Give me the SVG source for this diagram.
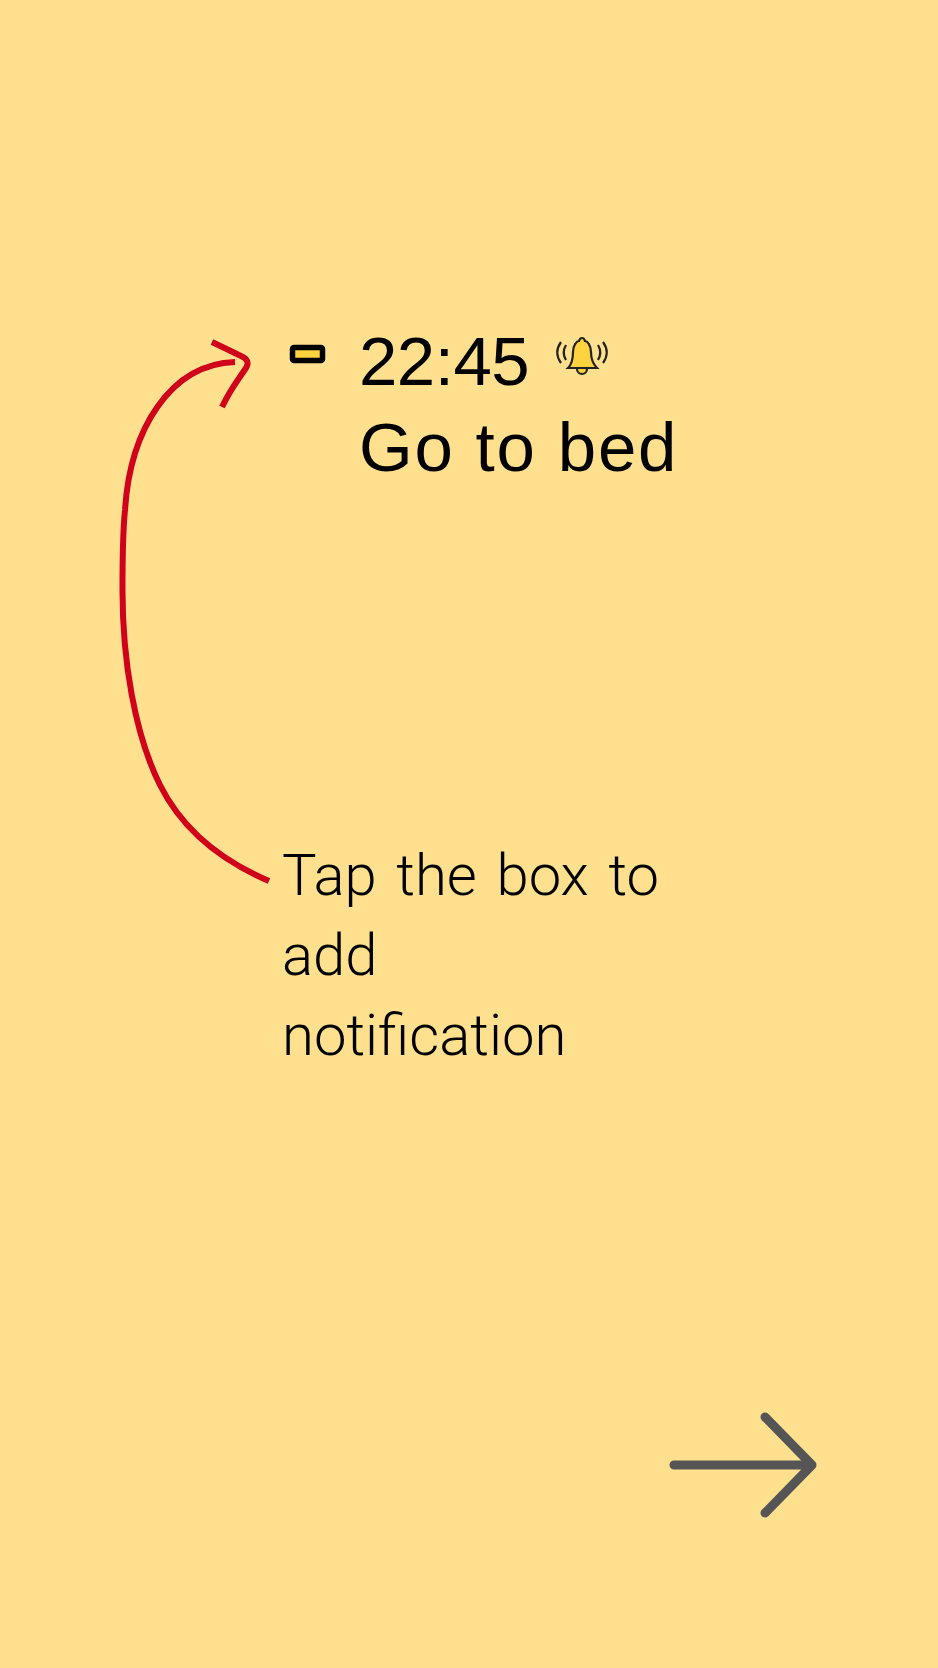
<svg xmlns="http://www.w3.org/2000/svg" width="938" height="1668" viewBox="0 0 938 1668">
<style>
.t{font-family:"Liberation Sans",Arial,sans-serif;fill:#000;font-size:69px}
.n{font-family:Roboto,"Liberation Sans",sans-serif;font-weight:300;fill:#000;font-size:58px}
.r{fill:none;stroke:#d0021b;stroke-width:6}
.g{fill:none;stroke:#555;stroke-width:9;stroke-linecap:round;stroke-linejoin:round}
</style>
<rect width="938" height="1668" fill="#ffe08f"/>
<g id="connectors">
<path class="r" d="M269 881C215 858 180 825 160 785C135 735 122 660 122.500 586C122.500 560 123 530 125 510C130 430 170 364 235 362"/>
<path class="r" d="M212 342L241 356C248 359 249 363 246 368C238 380 231 388 222 407"/>
<path class="g" d="M674 1465H812M765 1417L812 1465L765 1513"/>
</g>
<g id="checkbox"><rect x="292.500" y="347.500" width="30" height="13" rx="1.500" fill="#ffd23f" stroke="#000" stroke-width="5.500"/></g>
<g id="time"><text class="t" x="359" y="385" letter-spacing="-0.500">22:45</text></g>
<g id="bell" fill="none" stroke="#222" stroke-width="2.200">
<path d="M577 369A5 5 0 0 0 587 369" fill="#ffd23f"/>
<path d="M568 368C572 364 573 358 573 352C573 345 577 341 579 341C580 337 584 337 585 341C587 341 591 345 591 352C591 358 593 364 597 368Z" fill="#ffd23f"/>
<path d="M561 342C556 349 556 356 561 363M566 345C563 350 563 355 566 360M603 342C608 349 608 356 603 363M598 345C601 350 601 355 598 360"/>
</g>
<g id="title"><text class="t" x="359" y="471" letter-spacing="1.800">Go to bed</text></g>
<g id="note"><text class="n" x="282" y="895" word-spacing="5.500">Tap the box to</text><text class="n" x="282" y="975">add</text><text class="n" x="282" y="1055">notification</text></g>
</svg>
